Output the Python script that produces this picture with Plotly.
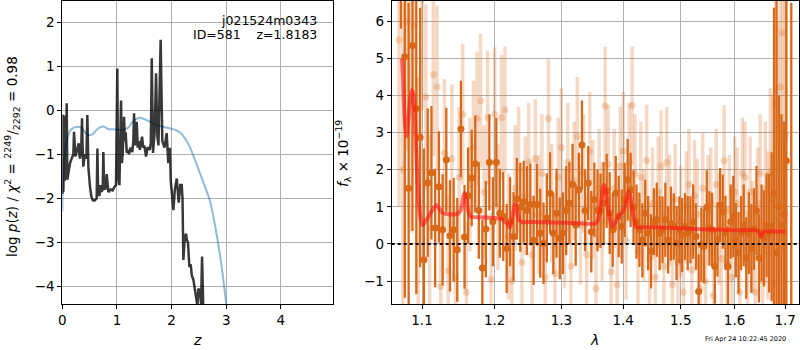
import plotly.graph_objects as go

# ---------------- left panel: log p(z) ----------------
pz_z = [0.0, 0.007, 0.02, 0.031, 0.045, 0.056, 0.07, 0.08, 0.092, 0.11,
        0.141, 0.17, 0.202, 0.214, 0.225, 0.239, 0.26, 0.30, 0.312, 0.324,
        0.345, 0.361, 0.373, 0.385, 0.41, 0.44, 0.458, 0.467, 0.477, 0.507,
        0.53, 0.556, 0.59, 0.629, 0.642, 0.655, 0.678, 0.70, 0.72, 0.739,
        0.751, 0.765, 0.788, 0.813, 0.843, 0.88, 0.922, 0.95, 0.983, 1.007,
        1.02, 1.045, 1.075, 1.09, 1.105, 1.13, 1.145, 1.16, 1.18, 1.20,
        1.22, 1.25, 1.28, 1.30, 1.313, 1.33, 1.345, 1.362, 1.38, 1.40,
        1.42, 1.44, 1.46, 1.48, 1.50, 1.533, 1.56, 1.60, 1.62, 1.637,
        1.66, 1.69, 1.716, 1.74, 1.76, 1.80, 1.83, 1.87, 1.91, 1.94,
        1.97, 1.985, 2.009, 2.033, 2.06, 2.095, 2.13, 2.16, 2.186, 2.20,
        2.216, 2.24, 2.265, 2.28, 2.30, 2.326, 2.35, 2.37, 2.40, 2.43,
        2.45, 2.473, 2.49, 2.52, 2.54, 2.558, 2.58]
pz_logp = [-1.9, -0.1, -1.85, -0.12, -1.6, -0.14, -0.8, 0.16, -1.58, -1.4,
           -1.2, -1.1, -1.0, -0.49, -1.0, -1.05, -0.95, -0.75, -1.0, -1.1,
           -0.9, -0.18, -0.9, -1.28, -1.0, -1.1, -0.11, -1.2, -1.3, -1.74,
           -1.95, -2.04, -2.05, -2.0, -0.87, -1.8, -1.95, -1.7, -1.85, -1.8,
           -0.95, -1.75, -1.8, -1.45, -1.86, -1.8, -1.82, -1.75, -1.7, 0.95,
           -1.5, -1.7, 0.22, -1.2, -1.0, -0.15, -0.7, -0.5, -0.97, -0.9,
           -1.0, -0.85, -0.95, -0.7, -0.07, -0.8, -0.6, -0.26, -0.85, -0.7,
           -0.9, -0.75, -0.6, -0.85, -0.8, -1.05, -0.84, -0.9, -0.75, 1.18,
           -0.97, -0.5, 0.84, -0.6, -0.8, 1.6, -0.7, -0.85, -0.52, -1.2,
           -0.85, -1.6, -1.89, -2.27, -1.8, -1.55, -2.1, -1.7, -1.7, -2.0,
           -3.4, -2.9, -2.8, -2.95, -3.0, -3.56, -3.5, -3.75, -3.85, -4.1,
           -4.25, -4.45, -4.05, -4.13, -4.4, -3.32, -4.5]

prior_z = [0.0, 0.03, 0.08, 0.15, 0.25, 0.35, 0.45, 0.55, 0.65, 0.75,
           0.85, 0.95, 1.1, 1.2, 1.3, 1.42, 1.55, 1.7, 1.85, 2.0,
           2.15, 2.3, 2.45, 2.6, 2.7, 2.8, 2.9, 3.0]
prior_logp = [-2.3, -1.2, -0.7, -0.45, -0.38, -0.40, -0.55, -0.55, -0.42, -0.37,
              -0.43, -0.43, -0.45, -0.40, -0.25, -0.17, -0.23, -0.32, -0.38, -0.42,
              -0.5, -0.75, -1.2, -1.7, -2.05, -2.65, -3.4, -4.4]

# ---------------- right panel: spectrum ----------------
dark_wave = [1.0725, 1.0775, 1.0825, 1.0875, 1.0925, 1.0975, 1.1025, 1.1075, 1.1125, 1.1175,
             1.1225, 1.1275, 1.1325, 1.1375, 1.1425, 1.1475, 1.1525, 1.1575, 1.1625, 1.1675,
             1.1725, 1.1775, 1.1825, 1.1875, 1.1925, 1.1975, 1.2025, 1.2075, 1.2125, 1.2175,
             1.2225, 1.2275, 1.2325, 1.2375, 1.2425, 1.2475, 1.2525, 1.2575, 1.2625, 1.2675,
             1.2725, 1.2775, 1.2825, 1.2875, 1.2925, 1.2975, 1.3025, 1.3075, 1.3125, 1.3175,
             1.3225, 1.3275, 1.3325, 1.3375, 1.3425, 1.3475, 1.3525, 1.3575, 1.3625, 1.3675,
             1.3725, 1.3775, 1.3825, 1.3875, 1.3925, 1.3975, 1.4025, 1.4075, 1.4125, 1.4175,
             1.4225, 1.4275, 1.4325, 1.4375, 1.4425, 1.4475, 1.4525, 1.4575, 1.4625, 1.4675,
             1.4725, 1.4775, 1.4825, 1.4875, 1.4925, 1.4975, 1.5025, 1.5075, 1.5125, 1.5175,
             1.5225, 1.5275, 1.5325, 1.5375, 1.5425, 1.5475, 1.5525, 1.5575, 1.5625, 1.5675,
             1.5725, 1.5775, 1.5825, 1.5875, 1.5925, 1.5975, 1.6025, 1.6075, 1.6125, 1.6175,
             1.6225, 1.6275, 1.6325, 1.6375, 1.6425, 1.6475, 1.6525, 1.6575, 1.6625, 1.6675,
             1.6725, 1.6775, 1.6825, 1.6875, 1.6925, 1.6975, 1.7025, 1.7125]
dark_flux = [7.8, 5.05, 1.5, 5.35, 3.65, 2.87, -0.43, 1.65, 1.92, 0.43,
             1.54, 0.38, 2.27, 0.22, 0.38, -0.16, 3.1, 0.19, 1.3, 1.78,
             2.16, 0.9, -0.65, 0.4, 2.2, 0.6, 2.2, 0.83, 0.74, -0.12,
             0.6, 0.2, 1.22, 0.99, 1.14, 0.9, 1.06, 0.1, 1.06, 0.29,
             0.02, 0.7, 1.37, 0.29, 0.83, 0.15, 0.29, 0.9, 1.1, 1.6,
             0.51, 1.46, 2.67, 0.9, 1.64, 0.33, 1.19, 0.9, 0.9, 1.1,
             1.43, 0.83, 0.38, 1.37, 0.74, 0.47, 1.19, 1.73, 1.46, 0.99,
             0.6, 0.38, 0.1, 0.83, 0.29, -0.2, 0.6, 0.65, 0.29, 0.38,
             0.65, 0.1, 0.55, 0.47, 0.02, 0.38, 0.24, 0.47, 0.29, 0.38,
             0.6, 0.2, -1.28, -0.02, -0.06, 0.99, 0.42, 0.38, -0.61, 0.12,
             1.05, 0.87, 0.3, -0.61, 0.6, 0.74, 0.1, -0.24, 0.29, 0.5,
             -0.38, 0.29, -0.12, 0.4, 0.9, -0.38, 0.3, 0.15, 0.5, 0.29,
             0.47, 1.37, -0.24, 1.0, 0.5, 0.8, 2.24, -2.5]
dark_err = [2.0, 6.5, 5.0, 5.0, 5.0, 3.5, 3.0, 2.0, 1.8, 1.6,
            1.5, 1.5, 1.4, 1.5, 1.4, 1.4, 1.3, 1.4, 1.3, 1.3,
            1.3, 1.3, 1.3, 1.3, 1.3, 1.2, 1.2, 1.2, 1.2, 1.2,
            1.2, 1.2, 1.1, 1.2, 1.1, 1.2, 1.1, 1.2, 1.1, 1.2,
            1.1, 1.2, 1.1, 1.1, 1.2, 1.1, 1.1, 1.2, 1.1, 1.1,
            1.1, 1.0, 1.2, 1.1, 1.0, 1.1, 1.0, 1.1, 1.0, 1.1,
            1.0, 1.1, 1.0, 1.0, 1.1, 1.0, 1.0, 1.1, 1.0, 1.0,
            1.0, 1.0, 1.0, 0.9, 1.0, 1.0, 0.9, 1.0, 1.0, 0.9,
            1.0, 0.9, 1.0, 0.9, 1.0, 0.9, 1.0, 0.9, 1.0, 0.9,
            1.0, 0.9, 1.0, 1.0, 1.0, 1.0, 1.0, 1.0, 1.0, 1.0,
            1.0, 1.0, 1.0, 1.1, 1.0, 1.1, 1.0, 1.1, 1.0, 1.1,
            1.1, 1.1, 1.2, 1.1, 1.2, 1.2, 1.3, 1.3, 1.4, 1.6,
            2.0, 5.0, 7.0, 3.0, 3.0, 2.5, 9.0, 9.0]

light_wave = [1.070, 1.075, 1.080, 1.085, 1.090, 1.095, 1.100, 1.105, 1.110, 1.115,
              1.120, 1.125, 1.130, 1.135, 1.140, 1.145, 1.150, 1.155, 1.160, 1.165,
              1.170, 1.175, 1.180, 1.185, 1.190, 1.195, 1.200, 1.205, 1.210, 1.215,
              1.220, 1.225, 1.230, 1.235, 1.240, 1.245, 1.250, 1.255, 1.260, 1.265,
              1.270, 1.275, 1.280, 1.285, 1.290, 1.295, 1.300, 1.305, 1.310, 1.315,
              1.320, 1.325, 1.330, 1.335, 1.340, 1.345, 1.350, 1.355, 1.360, 1.365,
              1.370, 1.375, 1.380, 1.385, 1.390, 1.395, 1.400, 1.405, 1.410, 1.415,
              1.420, 1.425, 1.430, 1.435, 1.440, 1.445, 1.450, 1.455, 1.460, 1.465,
              1.470, 1.475, 1.480, 1.485, 1.490, 1.495, 1.500, 1.505, 1.510, 1.515,
              1.520, 1.525, 1.530, 1.535, 1.540, 1.545, 1.550, 1.555, 1.560, 1.565,
              1.570, 1.575, 1.580, 1.585, 1.590, 1.595, 1.600, 1.605, 1.610, 1.615,
              1.620, 1.625, 1.630, 1.635, 1.640, 1.645, 1.650, 1.655, 1.660, 1.665,
              1.670, 1.675, 1.680, 1.685, 1.690, 1.695, 1.700]
light_flux = [5.5, 2.0, 6.0, 3.8, 5.9, 1.0, 6.6, 3.96, 0.43, 4.57,
              4.23, -1.15, 2.45, -0.72, 2.3, -0.9, 1.8, 3.5, -1.3, 1.6,
              2.6, 3.38, 3.86, 1.4, 3.4, -0.95, 3.5, 1.0, 3.4, 3.62,
              0.2, -1.0, 1.5, 2.0, -0.5, 1.3, 2.2, -0.3, 2.3, 0.8,
              1.9, -0.9, 3.38, 1.1, -0.8, 1.8, 2.6, 0.4, 2.2, -0.6,
              1.7, 2.9, 0.5, 1.9, -0.3, 2.5, 1.2, -1.2, 1.5, 0.6,
              3.72, 2.15, -0.75, 1.5, -1.1, 2.1, 2.5, 0.1, 2.2, 3.73,
              1.9, -0.2, 1.8, 0.5, 2.25, -0.4, 1.1, -0.9, 1.4, 2.1,
              -0.6, 2.2, 0.9, -1.1, 1.2, -0.5, 0.6, -1.3, 1.0, 1.6,
              -0.7, 1.3, 0.8, -1.2, 1.5, -1.0, 0.9, 1.1, -1.4, 1.6,
              0.4, -0.4, 2.24, -0.5, 0.9, -0.9, 1.4, 1.1, -1.3, 1.9,
              1.8, -0.6, 1.4, 0.2, -1.3, 1.1, 1.9, -1.0, 1.5, 0.5,
              1.9, 1.2, 3.78, 1.0, 4.23, 5.69, 2.94]
light_err = [4.5, 4.5, 3.5, 3.5, 3.0, 3.5, 3.0, 2.5, 2.5, 2.2,
             2.2, 2.0, 2.0, 2.0, 2.0, 1.9, 1.9, 1.9, 1.9, 1.8,
             1.8, 1.8, 1.8, 1.8, 1.8, 1.8, 1.8, 1.7, 1.7, 1.7,
             1.7, 1.7, 1.7, 1.7, 1.7, 1.6, 1.6, 1.6, 1.6, 1.6,
             1.6, 1.6, 1.6, 1.6, 1.6, 1.6, 1.6, 1.6, 1.6, 1.6,
             1.6, 1.6, 1.6, 1.6, 1.6, 1.6, 1.6, 1.6, 1.6, 1.6,
             1.6, 1.6, 1.6, 1.6, 1.6, 1.6, 1.6, 1.6, 1.6, 1.6,
             1.6, 1.6, 1.5, 1.5, 1.5, 1.5, 1.5, 1.5, 1.5, 1.5,
             1.5, 1.5, 1.5, 1.5, 1.5, 1.5, 1.5, 1.5, 1.5, 1.5,
             1.5, 1.5, 1.5, 1.5, 1.5, 1.5, 1.5, 1.5, 1.5, 1.5,
             1.5, 1.5, 1.5, 1.5, 1.5, 1.5, 1.5, 1.5, 1.5, 1.5,
             1.5, 1.5, 1.5, 1.5, 1.5, 1.5, 1.6, 1.7, 1.8, 2.0,
             2.3, 2.8, 3.5, 5.0, 5.0, 6.0, 6.0]

model_wave = [1.0739, 1.0755, 1.0775, 1.0800, 1.0820, 1.0845, 1.0869, 1.0890, 1.0910, 1.0935,
              1.0960, 1.0985, 1.1009, 1.1060, 1.1120, 1.1170, 1.1195, 1.1230, 1.1280, 1.1350,
              1.1440, 1.1485, 1.1520, 1.1545, 1.1565, 1.1580, 1.1600, 1.1625, 1.1656, 1.1800,
              1.2000, 1.2100, 1.2180, 1.2224, 1.2255, 1.2285, 1.2301, 1.2320, 1.2350, 1.2380,
              1.2600, 1.3000, 1.3300, 1.3550, 1.3600, 1.3640, 1.3670, 1.3690, 1.3715, 1.3750,
              1.3790, 1.3820, 1.3860, 1.3920, 1.3980, 1.4030, 1.4065, 1.4090, 1.4115, 1.4150,
              1.4190, 1.4210, 1.4500, 1.5000, 1.5500, 1.6000, 1.6440, 1.6480, 1.6510, 1.6540,
              1.6580, 1.7000]
model_flux = [5.0, 4.3, 3.3, 2.9, 3.3, 3.9, 4.16, 4.0, 3.3, 1.96,
              1.1, 0.65, 0.5, 0.65, 0.85, 1.0, 1.05, 0.95, 0.83, 0.80,
              0.80, 0.82, 0.9, 1.1, 1.33, 1.37, 1.2, 0.9, 0.74, 0.72,
              0.70, 0.67, 0.55, 0.44, 0.7, 1.0, 1.07, 0.95, 0.7, 0.6,
              0.59, 0.57, 0.56, 0.55, 0.75, 1.2, 1.55, 1.59, 1.4, 0.95,
              0.6, 0.47, 0.55, 0.75, 0.85, 1.0, 1.3, 1.42, 1.3, 0.95,
              0.6, 0.47, 0.45, 0.42, 0.39, 0.37, 0.36, 0.3, 0.19, 0.27,
              0.33, 0.33]

z_ticks = [0, 1, 2, 3, 4]
logp_ticks = [-4, -3, -2, -1, 0, 1, 2]
wave_ticks = [1.1, 1.2, 1.3, 1.4, 1.5, 1.6, 1.7]
wave_ticktext = ["1.1", "1.2", "1.3", "1.4", "1.5", "1.6", "1.7"]
flux_ticks = [-1, 0, 1, 2, 3, 4, 5, 6]

ORANGE = "rgb(217,104,24)"
ORANGE_LIGHT = "rgba(217,104,24,0.25)"
FONT = "DejaVu Sans"

fig = go.Figure()

fig.add_trace(go.Scatter(x=prior_z, y=prior_logp, mode="lines",
                         line=dict(color="rgba(31,119,180,0.5)", width=2, shape="spline"),
                         xaxis="x", yaxis="y", showlegend=False, hoverinfo="skip"))
fig.add_trace(go.Scatter(x=pz_z, y=pz_logp, mode="lines",
                         line=dict(color="rgba(0,0,0,0.78)", width=2.5),
                         xaxis="x", yaxis="y", showlegend=False, hoverinfo="skip"))

fig.add_trace(go.Scatter(x=light_wave, y=light_flux, mode="markers",
                         marker=dict(color=ORANGE_LIGHT, size=7, line=dict(width=0)),
                         error_y=dict(type="data", array=light_err, color=ORANGE_LIGHT,
                                      thickness=3.5, width=0),
                         xaxis="x2", yaxis="y2", showlegend=False, hoverinfo="skip"))
fig.add_trace(go.Scatter(x=dark_wave, y=dark_flux, mode="markers",
                         marker=dict(color=ORANGE, size=7, line=dict(width=0)),
                         error_y=dict(type="data", array=dark_err, color=ORANGE,
                                      thickness=2.3, width=0),
                         xaxis="x2", yaxis="y2", showlegend=False, hoverinfo="skip"))
fig.add_trace(go.Scatter(x=model_wave, y=model_flux, mode="lines",
                         line=dict(color="rgba(255,20,20,0.6)", width=4, shape="spline", smoothing=0.6),
                         xaxis="x2", yaxis="y2", showlegend=False, hoverinfo="skip"))

axis_common = dict(showline=True, linecolor="black", linewidth=1, mirror=True,
                   ticks="outside", ticklen=4, tickcolor="black", tickwidth=1,
                   showgrid=True, gridcolor="#b0b0b0", gridwidth=1, zeroline=False,
                   tickfont=dict(family=FONT, size=13.5, color="black"))

fig.update_layout(
    width=800, height=350,
    margin=dict(l=0, r=0, t=0, b=0, autoexpand=False),
    paper_bgcolor="white", plot_bgcolor="white",
    font=dict(family=FONT, color="black"),
    xaxis=dict(domain=[0.0779, 0.4166], range=[0, 4.96], tickvals=z_ticks,
               anchor="y", **axis_common),
    yaxis=dict(domain=[0.1314, 0.9971], range=[-4.40, 2.48], tickvals=logp_ticks,
               anchor="x", **axis_common),
    xaxis2=dict(domain=[0.4896, 0.9991], type="log", range=[0.02560, 0.23779],
                tickvals=wave_ticks, ticktext=wave_ticktext, anchor="y2", **axis_common),
    yaxis2=dict(domain=[0.1314, 0.9971], range=[-1.62, 6.55], tickvals=flux_ticks,
                anchor="x2", **axis_common),
    shapes=[dict(type="line", xref="x2 domain", yref="y2", x0=0, x1=1, y0=0, y1=0,
                 line=dict(color="black", width=2, dash="dot"), layer="above")],
    annotations=[
        dict(text="j021524m0343", x=319, y=20, xref="paper", yref="paper",
             showarrow=False, xanchor="right", yanchor="middle",
             font=dict(family=FONT, size=12.5, color="black")),
        dict(text="ID=581&nbsp;&nbsp;&nbsp;&nbsp;z=1.8183", x=319, y=34, xref="paper", yref="paper",
             showarrow=False, xanchor="right", yanchor="middle",
             font=dict(family=FONT, size=12.5, color="black")),
        dict(text="log <i>p</i>(<i>z</i>) / <i>χ</i><sup>2</sup> = <sup>2249</sup>/<sub>2292</sub> = 0.98",
             x=12, y=157, xref="paper", yref="paper", showarrow=False, textangle=-90,
             xanchor="center", yanchor="middle", font=dict(family=FONT, size=13.5, color="black")),
        dict(text="<i>f</i><sub>λ</sub> × 10<sup>−19</sup>",
             x=343, y=154, xref="paper", yref="paper", showarrow=False, textangle=-90,
             xanchor="center", yanchor="middle", font=dict(family=FONT, size=13.5, color="black")),
        dict(text="<i>z</i>", x=197, y=340, xref="paper", yref="paper", showarrow=False,
             xanchor="center", yanchor="middle", font=dict(family=FONT, size=14, color="black")),
        dict(text="<i>λ</i>", x=594, y=340, xref="paper", yref="paper", showarrow=False,
             xanchor="center", yanchor="middle", font=dict(family=FONT, size=14, color="black")),
        dict(text="Fri Apr 24 10:22:45 2020", x=745, y=339, xref="paper", yref="paper",
             showarrow=False, xanchor="center", yanchor="middle",
             font=dict(family=FONT, size=6.5, color="black")),
    ],
)

# convert pixel positions of annotations into paper coordinates
for ann in fig.layout.annotations:
    ann.x = ann.x / 800.0
    ann.y = (350.0 - ann.y) / 350.0

fig.write_html("out.html",
               config={"displayModeBar": False},
               post_script="document.body.style.margin='0px';document.body.style.padding='0px';")
